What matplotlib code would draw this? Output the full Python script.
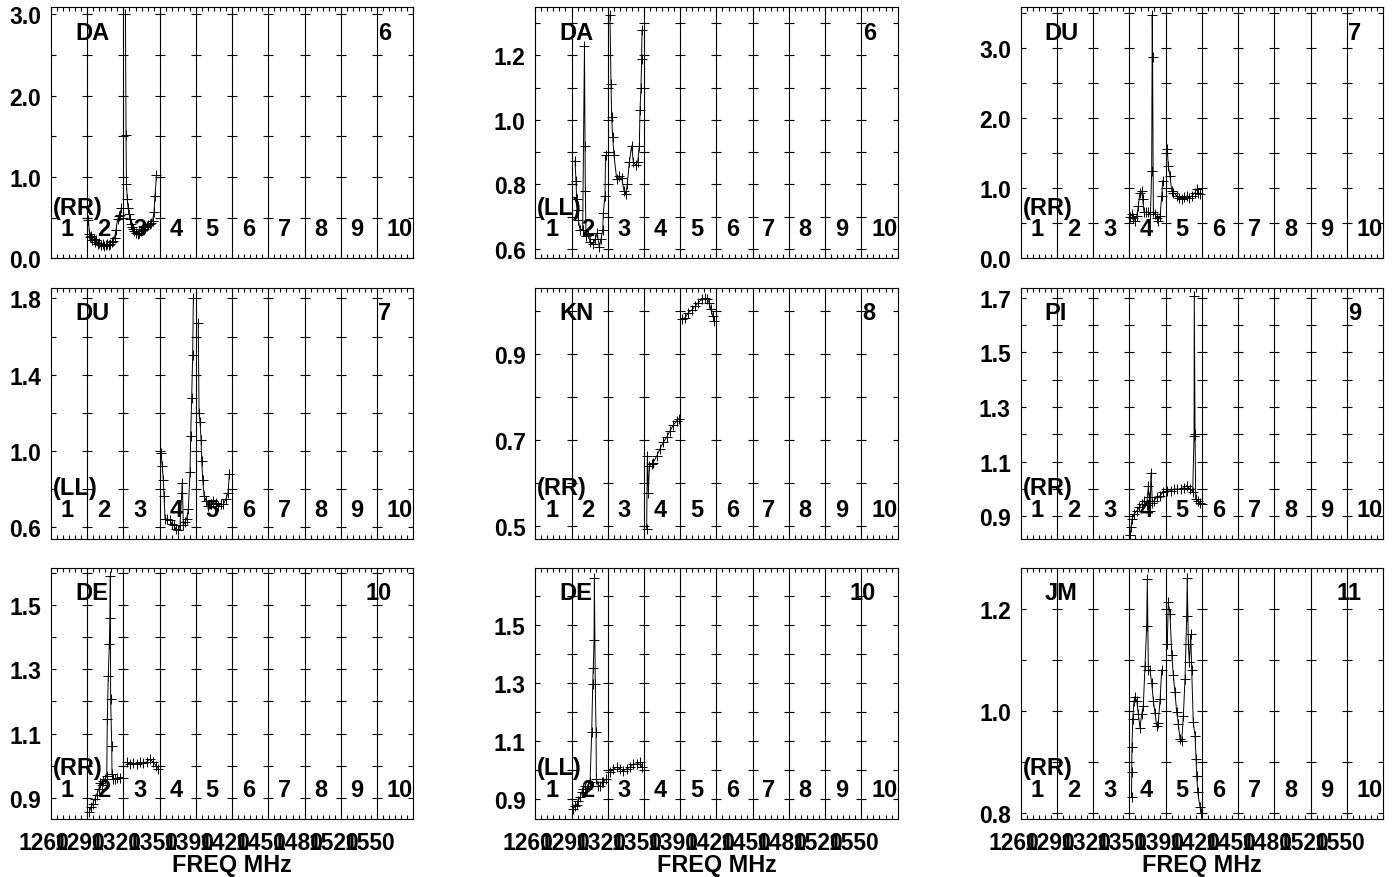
import numpy as np
import matplotlib
matplotlib.use("Agg")
import matplotlib.pyplot as plt
from matplotlib.ticker import FixedLocator
from matplotlib.transforms import ScaledTranslation

plt.rcParams['font.family'] = ['Liberation Sans', 'DejaVu Sans']
plt.rcParams['font.weight'] = 'bold'

# frequency layout: 10 spectral windows
band_lo = 1261.0
band_w = 32.5
band_names = ['1', '2', '3', '4', '5', '6', '7', '8', '9', '10']
freq_labels = ['1260', '1290', '1320', '1350', '1390', '1420', '1450', '1480', '1520', '1550']

stations = ['DA', 'DA', 'DU', 'DU', 'KN', 'PI', 'DE', 'DE', 'JM']
pols = ['(RR)', '(LL)', '(RR)', '(LL)', '(RR)', '(RR)', '(RR)', '(LL)', '(RR)']
antnums = ['6', '6', '7', '7', '8', '9', '10', '10', '11']

# panel 1: DA RR
f1 = [1294.6, 1295.5, 1296.4, 1297.3, 1298.2, 1299.6, 1300.5, 1301.8, 1303.2, 1304.5,
      1305.9, 1307.2, 1308.5, 1309.9, 1311.2, 1312.6, 1313.9, 1315.3, 1316.6, 1318.0,
      1319.3, 1320.7, 1322.0, 1323.3, 1324.2,
      1327.8, 1328.3, 1328.7, 1329.4, 1330.1, 1331.0, 1331.9, 1332.8, 1333.7, 1334.6,
      1335.9, 1337.3, 1338.6, 1339.9, 1341.3, 1342.6, 1344.0, 1345.3, 1346.7, 1348.0,
      1349.4, 1350.7, 1352.1, 1353.4, 1354.3, 1355.6]
a1 = [0.47, 0.30, 0.26, 0.28, 0.22, 0.24, 0.20, 0.22, 0.18, 0.19,
      0.16, 0.17, 0.15, 0.16, 0.17, 0.16, 0.18, 0.20, 0.21, 0.25,
      0.35, 0.48, 0.52, 0.53, 0.62,
      3.00, 1.51, 0.91, 0.73, 0.62, 0.55, 0.48, 0.42, 0.38, 0.36,
      0.33, 0.31, 0.30, 0.31, 0.33, 0.35, 0.36, 0.38, 0.40, 0.41,
      0.42, 0.43, 0.46, 0.57, 0.77, 1.02]

# panel 2: DA LL
f2 = [1296.6, 1297.5, 1298.1, 1298.9, 1299.6, 1301.1, 1303.5, 1305.1, 1305.6, 1305.9,
      1306.5, 1308.5, 1310.1, 1312.5, 1314.6, 1316.6, 1318.4, 1319.9, 1321.5, 1322.0,
      1323.5, 1324.0,
      1328.0, 1328.9, 1329.5, 1330.4, 1331.6, 1334.0, 1336.4, 1338.5, 1340.6, 1342.1,
      1343.5, 1345.3, 1347.5, 1348.9, 1351.1, 1352.9, 1354.3, 1354.9, 1355.8, 1356.4,
      1356.7]
a2 = [0.874, 0.81, 0.755, 0.72, 0.69, 0.66, 0.66, 1.23, 0.92, 0.78,
      0.64, 0.65, 0.62, 0.615, 0.63, 0.65, 0.605, 0.63, 0.66, 0.71,
      0.765, 0.89,
      1.325, 1.112, 1.009, 0.947, 0.89, 0.817, 0.826, 0.82, 0.78, 0.77,
      0.80, 0.869, 0.92, 0.87, 0.86, 0.87, 0.92, 1.03, 1.10, 1.19,
      1.278]

# panel 3: DU RR
f3 = [1359.1, 1360.6, 1362.0, 1363.5, 1365.1, 1366.5, 1368.0, 1369.5, 1370.4, 1371.6,
      1373.4, 1375.5, 1377.4, 1378.5, 1379.0, 1379.3, 1380.0, 1381.5, 1383.0, 1384.4,
      1386.0, 1387.5, 1388.4,
      1392.5, 1393.4, 1394.9, 1396.5, 1397.9, 1400.9, 1403.3, 1405.4, 1407.5, 1409.9,
      1412.3, 1414.4, 1417.4, 1418.9, 1420.3, 1421.9]
a3 = [0.585, 0.63, 0.57, 0.54, 0.60, 0.75, 0.94, 0.96, 0.85, 0.66,
      0.66, 0.66, 0.63, 1.25, 3.48, 2.87, 0.66, 0.63, 0.58, 0.54,
      0.60, 0.89, 1.11,
      1.56, 1.32, 1.18, 0.965, 0.94, 0.894, 0.86, 0.85, 0.87, 0.89,
      0.86, 0.89, 0.94, 0.99, 0.94, 0.92]

# panel 4: DU LL
f4 = [1359.7, 1360.8, 1361.7, 1362.4, 1363.3, 1364.8, 1367.8, 1369.3, 1371.3, 1373.1,
      1375.2, 1376.7, 1378.3, 1378.8, 1379.7, 1381.2, 1382.7, 1384.2, 1385.7, 1386.3,
      1387.2, 1388.1, 1388.7,
      1393.1, 1393.8, 1394.7, 1395.6, 1396.2, 1397.1, 1398.3, 1400.1, 1402.1, 1404.3,
      1406.6, 1409.0, 1411.1, 1413.2, 1415.6, 1418.0, 1419.8, 1421.0]
a4 = [0.99, 0.92, 0.85, 0.766, 0.645, 0.645, 0.64, 0.617, 0.61, 0.59,
      0.585, 0.61, 0.78, 0.835, 0.61, 0.63, 0.645, 0.695, 0.89, 1.08,
      1.28, 1.505, 1.80,
      1.673, 1.20, 1.15, 1.06, 0.95, 0.85, 0.765, 0.74, 0.713, 0.72,
      0.74, 0.73, 0.71, 0.72, 0.72, 0.75, 0.78, 0.88]

# panel 5: KN RR
f5 = [1360.9, 1361.5, 1362.4, 1363.3, 1365.4, 1366.9, 1369.9, 1372.9, 1375.8, 1378.9,
      1381.8, 1384.8, 1387.8, 1389.9,
      1392.3, 1395.3, 1398.3, 1401.3, 1404.3, 1407.2, 1410.3, 1413.2, 1415.3, 1417.1,
      1418.4, 1420.1, 1421.6]
a5 = [0.493, 0.663, 0.578, 0.64, 0.645, 0.648, 0.663, 0.68, 0.695, 0.707,
      0.722, 0.735, 0.745, 0.75,
      0.981, 0.985, 0.997, 1.003, 1.012, 1.02, 1.028, 1.03, 1.028, 1.02,
      1.005, 0.99, 0.977]

# panel 6: PI RR
f6 = [1359.1, 1360.0, 1360.8, 1362.6, 1365.1, 1367.4, 1369.5, 1371.6, 1374.0, 1375.5,
      1376.1, 1377.0, 1377.9, 1379.1, 1380.6, 1383.0, 1386.0, 1388.9,
      1392.5, 1395.6, 1398.5, 1401.5, 1404.5, 1407.5, 1409.9, 1412.9, 1415.3, 1416.5,
      1416.7, 1417.4, 1418.0, 1419.8, 1421.9, 1423.4]
a6 = [0.83, 0.86, 0.89, 0.908, 0.92, 0.933, 0.945, 0.957, 0.94, 1.01,
      0.97, 0.92, 1.06, 0.95, 0.957, 0.97, 0.975, 0.99,
      0.993, 0.993, 1.0, 1.0, 1.0, 1.005, 1.012, 1.0, 0.99, 1.194,
      1.706, 1.2, 0.963, 0.957, 0.95, 0.945]

# panel 7: DE RR
f7 = [1295.4, 1296.6, 1298.4, 1300.2, 1302.0, 1303.8, 1305.0, 1306.5, 1307.9, 1309.4,
      1311.0, 1311.5, 1312.4, 1313.3, 1313.9, 1314.2, 1314.5, 1315.5, 1315.7, 1316.9,
      1318.4, 1320.5, 1322.9, 1325.3,
      1328.9, 1331.9, 1334.8, 1337.9, 1340.8, 1343.8, 1346.9, 1349.8, 1352.8, 1355.2,
      1357.3]
a7 = [0.855, 0.87, 0.88, 0.896, 0.91, 0.927, 0.946, 0.94, 0.953, 0.958,
      0.968, 1.145, 1.28, 1.378, 1.46, 1.59, 1.207, 1.06, 0.973, 0.958,
      0.958, 0.963, 0.963, 0.963,
      1.01, 1.005, 1.008, 1.005, 1.01, 1.008, 1.012, 1.02, 1.01, 1.0,
      0.99]

# panel 8: DE LL
f8 = [1295.1, 1296.6, 1298.1, 1299.6, 1301.1, 1302.6, 1304.1, 1305.6, 1307.1, 1308.5,
      1310.1, 1311.6, 1312.5, 1313.0, 1313.7, 1314.0, 1314.8, 1315.5, 1315.8, 1317.5,
      1319.0, 1320.6, 1322.0, 1324.4,
      1328.0, 1331.0, 1334.0, 1337.0, 1339.9, 1343.0, 1346.0, 1348.9, 1352.0, 1354.9,
      1356.5]
a8 = [0.865, 0.875, 0.88, 0.893, 0.905, 0.922, 0.933, 0.945, 0.933, 0.945,
      0.957, 1.129, 1.296, 1.35, 1.45, 1.664, 1.296, 1.13, 0.968, 0.945,
      0.945, 0.957, 0.957, 0.968,
      0.991, 1.003, 1.009, 1.003, 0.997, 1.003, 1.009, 1.02, 1.02, 1.026,
      1.009]

# panel 9: JM RR
f9 = [1360.4, 1360.6, 1360.8, 1361.5, 1362.6, 1363.5, 1365.1, 1366.5, 1368.0, 1369.5,
      1371.0, 1372.5, 1374.0, 1374.6, 1375.5, 1377.0, 1378.5, 1380.0, 1381.5, 1383.0,
      1384.4, 1386.0, 1387.5,
      1392.5, 1393.4, 1394.9, 1396.5, 1397.9, 1399.4, 1400.9, 1402.4, 1403.9, 1405.4,
      1406.9, 1408.4, 1409.9, 1410.4, 1411.4, 1412.3, 1413.5, 1414.4, 1415.8, 1417.4,
      1418.3, 1418.9, 1419.8, 1421.9, 1423.0]
a9 = [0.831, 0.88, 0.928, 0.984, 1.019, 1.026, 1.02, 0.993, 0.967, 0.993,
      1.01, 1.088, 1.166, 1.257, 1.08, 1.08, 1.054, 1.02, 0.995, 0.97,
      0.975, 1.022, 1.08,
      1.13, 1.212, 1.19, 1.11, 1.07, 1.036, 0.998, 0.974, 0.945, 0.94,
      0.99, 1.062, 1.186, 1.26, 1.13, 1.095, 1.15, 1.08, 0.977, 0.951,
      0.906, 0.873, 0.84, 0.811, 0.80]

freqs = [f1, f2, f3, f4, f5, f6, f7, f8, f9]
amps = [a1, a2, a3, a4, a5, a6, a7, a8, a9]

ylims = [(0.0, 3.09), (0.571, 1.35), (0.0, 3.59),
         (0.539, 1.856), (0.47, 1.055), (0.817, 1.737),
         (0.834, 1.616), (0.83, 1.698), (0.788, 1.28)]
ymajor = [[0.0, 1.0, 2.0, 3.0], [0.6, 0.8, 1.0, 1.2], [0.0, 1.0, 2.0, 3.0],
          [0.6, 1.0, 1.4, 1.8], [0.5, 0.7, 0.9], [0.9, 1.1, 1.3, 1.5, 1.7],
          [0.9, 1.1, 1.3, 1.5], [0.9, 1.1, 1.3, 1.5], [0.8, 1.0, 1.2]]
yminor = [[0.5, 1.5, 2.5], [0.7, 0.9, 1.1, 1.3], [0.5, 1.5, 2.5, 3.5],
          [0.8, 1.2, 1.6], [0.6, 0.8, 1.0], [1.0, 1.2, 1.4, 1.6],
          [1.0, 1.2, 1.4, 1.6], [1.0, 1.2, 1.4, 1.6], [0.9, 1.1]]

W, H = 1395, 878
fig = plt.figure(figsize=(W / 100, H / 100), dpi=100)
col_left = [51, 535.3, 1020.7]
row_bottom = [259.3, 540, 820]
ax_w, ax_h = 362.3, 251.3

edges = band_lo + band_w * np.arange(11)
minor_x = band_lo + band_w / 6 * np.arange(61)
fs = 17

for i in range(9):
    r, c = divmod(i, 3)
    ax = fig.add_axes([col_left[c] / W, 1 - row_bottom[r] / H, ax_w / W, ax_h / H])
    ax.set_xlim(edges[0], edges[-1])
    ax.set_ylim(*ylims[i])

    for e in edges[1:-1]:
        ax.axvline(e, color='black', lw=0.8, zorder=1)
    yall = ymajor[i] + yminor[i]
    xs = np.repeat(edges[1:-1], len(yall))
    ys = np.tile(yall, 9)
    ax.plot(xs, ys, ls='none', marker='_', ms=7.5, mew=0.8, color='black', zorder=1)

    # each spectral window is drawn as its own trace
    f = np.array(freqs[i])
    a = np.array(amps[i])
    band = np.floor((f - band_lo) / band_w)
    for b in np.unique(band):
        sel = band == b
        ax.plot(f[sel], a[sel], color='black', lw=0.7, marker='+', ms=7, mew=0.7, zorder=3)

    ax.yaxis.set_major_locator(FixedLocator(ymajor[i]))
    ax.yaxis.set_minor_locator(FixedLocator(yminor[i]))
    ax.set_yticklabels(['%.1f' % v for v in ymajor[i]])
    ax.xaxis.set_major_locator(FixedLocator(edges[:10]))
    ax.xaxis.set_minor_locator(FixedLocator(minor_x))
    ax.tick_params(axis='y', which='both', direction='in', left=True, right=True,
                   length=3.8, width=0.8, labelsize=16.5, pad=7)
    ax.tick_params(axis='x', which='both', direction='in', bottom=True, top=True,
                   length=3.2, width=0.8, labelsize=16.5, pad=9)
    for sp in ax.spines.values():
        sp.set_linewidth(0.8)

    if r == 2:
        ax.set_xticklabels(freq_labels)
        for lab in ax.get_xticklabels():
            lab.set_transform(lab.get_transform() + ScaledTranslation(-0.07, 0, fig.dpi_scale_trans))
        ax.set_xlabel('FREQ MHz', fontsize=16.8, fontweight='bold', labelpad=-1)
    else:
        ax.set_xticklabels([])

    ax.text(0.066, 0.90, stations[i], transform=ax.transAxes, fontsize=fs,
            fontweight='bold', ha='left', va='center')
    ax.text(0.94, 0.90, antnums[i], transform=ax.transAxes, fontsize=fs,
            fontweight='bold', ha='right', va='center')
    ax.text(0.005, 0.204, pols[i], transform=ax.transAxes, fontsize=fs,
            fontweight='bold', ha='left', va='center')
    for k in range(10):
        ax.text(0.1 * k + 0.027, 0.117, band_names[k], transform=ax.transAxes,
                fontsize=fs, fontweight='bold', ha='left', va='center', zorder=2)

fig.savefig('out.png', dpi=100)
